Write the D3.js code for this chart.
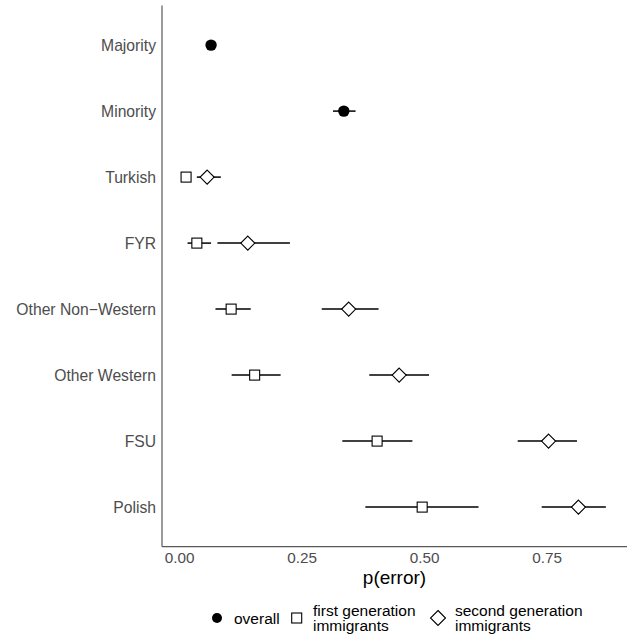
<!DOCTYPE html>
<html>
<head>
<meta charset="utf-8">
<script src="https://cdn.jsdelivr.net/npm/d3@7"></script>
<style>
  body { margin: 0; background: #fff; }
  text { font-family: "Liberation Sans", Arial, sans-serif; }
</style>
</head>
<body>
<svg id="chart" width="636" height="635"></svg>
<script>
'use strict'

// categories, top to bottom
const categories = ['Majority', 'Minority', 'Turkish', 'FYR', 'Other Non\u2212Western', 'Other Western', 'FSU', 'Polish']

// overall estimates (Majority, Minority)
const overallCats = ['Majority', 'Minority']
const overallEst = [0.065, 0.336]
const overallLo = [0.060, 0.314]
const overallHi = [0.070, 0.360]

// first and second generation immigrants
const groupCats = ['Turkish', 'FYR', 'Other Non\u2212Western', 'Other Western', 'FSU', 'Polish']
const firstEst = [0.014, 0.036, 0.106, 0.154, 0.404, 0.496]
const firstLo = [0.008, 0.017, 0.074, 0.107, 0.333, 0.380]
const firstHi = [0.020, 0.065, 0.146, 0.207, 0.476, 0.611]
const secondEst = [0.057, 0.140, 0.346, 0.449, 0.754, 0.815]
const secondLo = [0.036, 0.078, 0.291, 0.388, 0.691, 0.740]
const secondHi = [0.085, 0.226, 0.407, 0.510, 0.812, 0.871]

const xTicks = [0, 0.25, 0.5, 0.75]
const legendLabels = [['overall'], ['first generation', 'immigrants'], ['second generation', 'immigrants']]

// build rows {cat, est, lo, hi, type}
const rows = []
overallCats.forEach((c, i) => rows.push({cat: c, est: overallEst[i], lo: overallLo[i], hi: overallHi[i], type: 'overall'}))
groupCats.forEach((c, i) => rows.push({cat: c, est: firstEst[i], lo: firstLo[i], hi: firstHi[i], type: 'first'}))
groupCats.forEach((c, i) => rows.push({cat: c, est: secondEst[i], lo: secondLo[i], hi: secondHi[i], type: 'second'}))

const panel = {left: 162, right: 627, top: 5.5, bottom: 546.7}

// x scale with ggplot style 5% expansion
const xmin = d3.min(rows, d => d.lo), xmax = d3.max(rows, d => d.hi)
const pad = (xmax - xmin) * 0.05
const x = d3.scaleLinear().domain([xmin - pad, xmax + pad]).range([panel.left, panel.right])
const y = d3.scalePoint().domain(categories).range([panel.top, panel.bottom]).padding(0.6)

const svg = d3.select('#chart')

const diamond = (r) => `M0,${-r}L${r},0L0,${r}L${-r},0Z`

function drawMarker(g, type, big) {
  if (type === 'overall') {
    g.append('circle').attr('r', big ? 5.7 : 5).attr('fill', '#000')
  } else if (type === 'first') {
    const s = 10
    g.append('rect').attr('x', -s / 2).attr('y', -s / 2).attr('width', s).attr('height', s)
      .attr('fill', '#fff').attr('stroke', '#000').attr('stroke-width', 1.1)
  } else {
    g.append('path').attr('d', diamond(big ? 7 : 7.5))
      .attr('fill', '#fff').attr('stroke', '#000').attr('stroke-width', 1.1)
  }
}

// error bars
svg.append('g').selectAll('line')
  .data(rows)
  .enter().append('line')
    .attr('x1', d => x(d.lo))
    .attr('x2', d => x(d.hi))
    .attr('y1', d => y(d.cat))
    .attr('y2', d => y(d.cat))
    .attr('stroke', '#000')
    .attr('stroke-width', 1.5)

// points
svg.append('g').selectAll('g')
  .data(rows)
  .enter().append('g')
    .attr('transform', d => `translate(${x(d.est)},${y(d.cat)})`)
    .each(function(d) { drawMarker(d3.select(this), d.type, true) })

// y axis
const yAxis = svg.append('g')
  .attr('transform', `translate(${panel.left},0)`)
  .call(d3.axisLeft(y).tickSize(0).tickPadding(6))
yAxis.select('.domain').remove()
yAxis.selectAll('text').attr('font-size', 15.7).attr('fill', '#4d4d4d')
  .style('font-family', '"Liberation Sans", Arial, sans-serif')

// x axis
const xAxis = svg.append('g')
  .attr('transform', `translate(0,${panel.bottom})`)
  .call(d3.axisBottom(x).tickValues(xTicks).tickFormat(d3.format('.2f')).tickSize(0).tickPadding(5))
xAxis.select('.domain').remove()
xAxis.selectAll('text').attr('font-size', 15.3).attr('fill', '#4d4d4d')
  .style('font-family', '"Liberation Sans", Arial, sans-serif')

// axis lines
svg.append('line')
  .attr('x1', panel.left).attr('x2', panel.left)
  .attr('y1', panel.top).attr('y2', panel.bottom)
  .attr('stroke', '#595959').attr('stroke-width', 1.2)
svg.append('line')
  .attr('x1', panel.left).attr('x2', panel.right)
  .attr('y1', panel.bottom).attr('y2', panel.bottom)
  .attr('stroke', '#595959').attr('stroke-width', 1.2)

// axis title
svg.append('text')
  .attr('x', (panel.left + panel.right) / 2)
  .attr('y', 584)
  .attr('text-anchor', 'middle')
  .attr('font-size', 19)
  .attr('fill', '#000')
  .text('p(error)')

// legend
const legendKeys = [
  {type: 'overall', kx: 217, tx: 234},
  {type: 'first', kx: 296.7, tx: 313},
  {type: 'second', kx: 438, tx: 455}
]
const legendY = 618
legendKeys.forEach((k, i) => {
  const g = svg.append('g').attr('transform', `translate(${k.kx},${legendY})`)
  drawMarker(g, k.type, false)
  const lines = legendLabels[i]
  const t = svg.append('text')
    .attr('x', k.tx)
    .attr('font-size', 15.5)
    .attr('fill', '#000')
  if (lines.length === 1) {
    t.attr('y', legendY + 6).text(lines[0])
  } else {
    lines.forEach((l, j) => {
      t.append('tspan').attr('x', k.tx).attr('y', 615.5 + j * 15.5).text(l)
    })
  }
})
</script>
</body>
</html>
